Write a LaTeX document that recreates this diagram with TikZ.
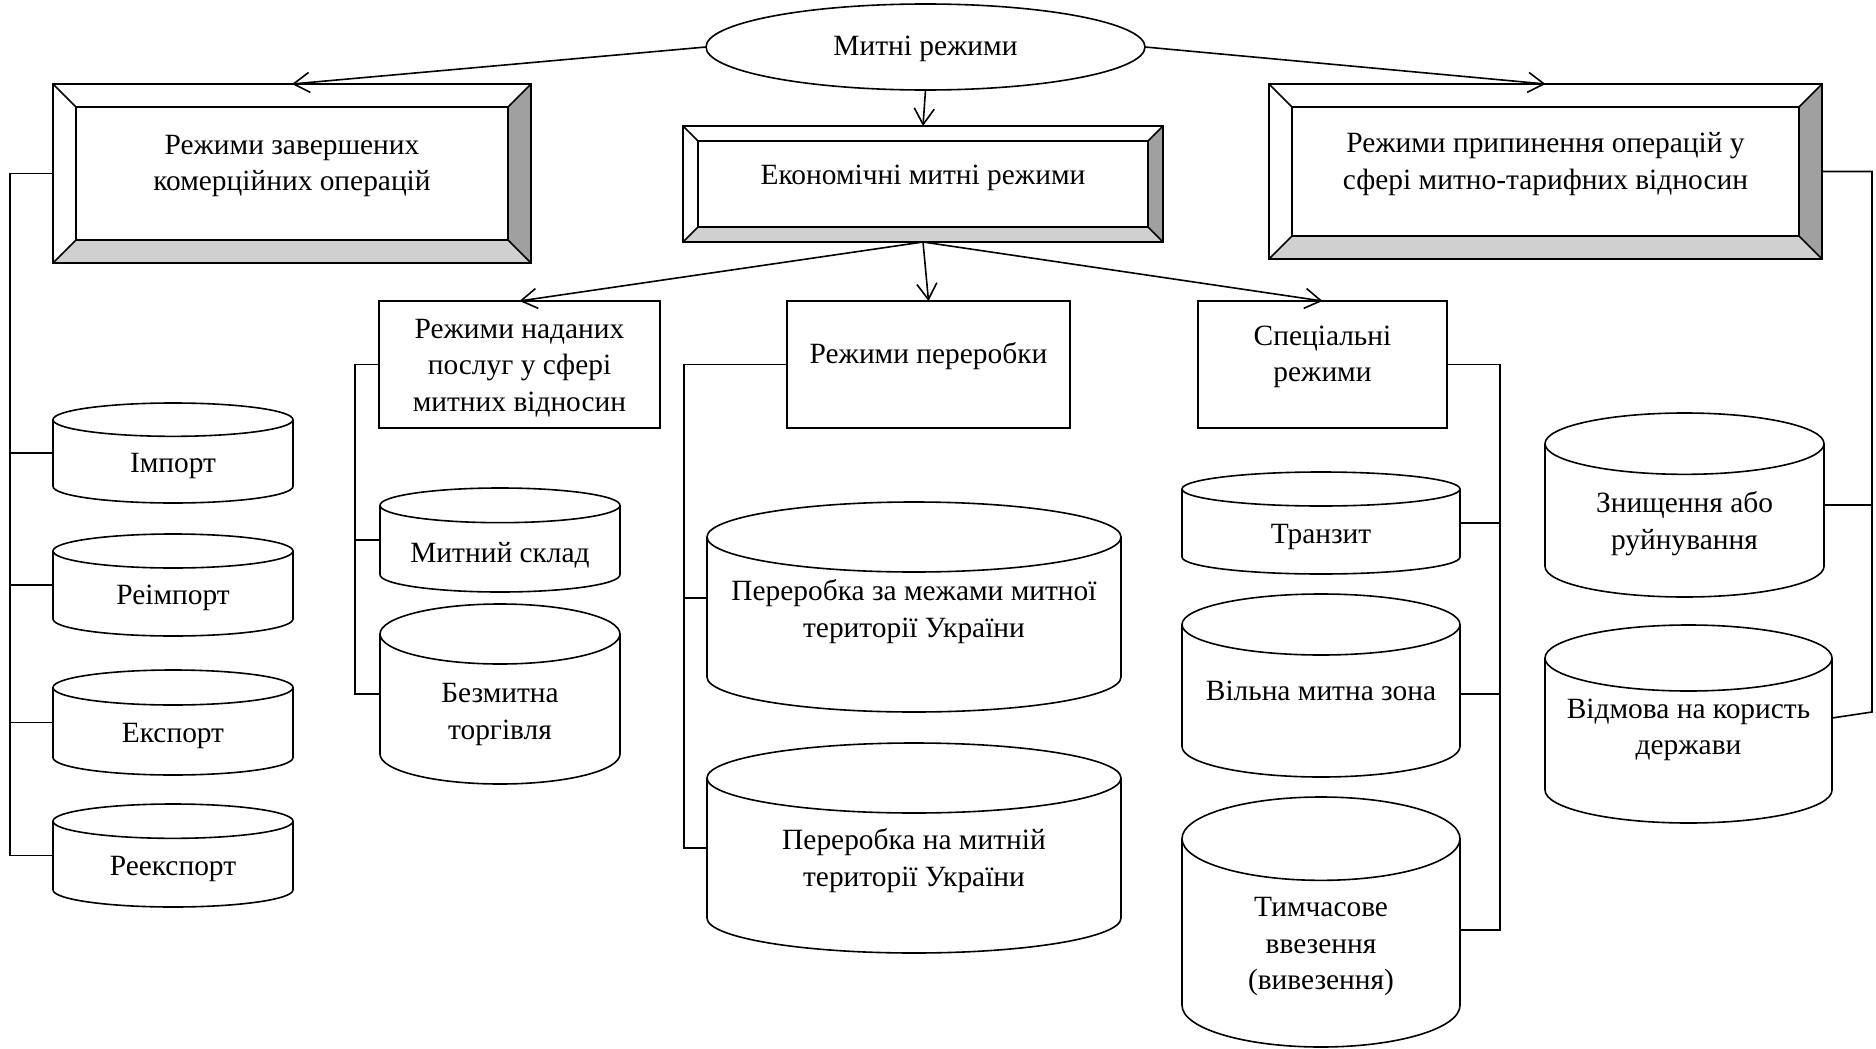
\documentclass[tikz,border=0pt]{standalone}
\usepackage{fontspec}
\setmainfont{Liberation Serif}
\usetikzlibrary{arrows.meta,calc,shapes.geometric}

\definecolor{bevdark}{HTML}{A0A0A0}
\definecolor{bevlight}{HTML}{D0D0D0}

\tikzset{
  txt/.style={align=center, inner sep=0pt, font=\fontsize{29.4}{36.5}\selectfont},
  lbl/.style={txt, yshift=-2.5pt},
  box/.style={draw, line width=1.6pt, inner sep=0pt, outer sep=0pt},
  oval/.style={box, ellipse},
  canbox/.style={inner sep=0pt, outer sep=0pt},
  bevel/.style={box, path picture={
    \fill[bevdark] (path picture bounding box.north east) -- (path picture bounding box.south east)
      -- ++(-#1,#1) -- ([shift={(-#1,-#1)}]path picture bounding box.north east) -- cycle;
    \fill[bevlight] (path picture bounding box.south west) -- (path picture bounding box.south east)
      -- ++(-#1,#1) -- ([shift={(#1,#1)}]path picture bounding box.south west) -- cycle;
    \draw[line width=1.6pt] ([shift={(#1,-#1)}]path picture bounding box.north west)
      rectangle ([shift={(-#1,#1)}]path picture bounding box.south east);
    \draw[line width=1.6pt] (path picture bounding box.north west) -- ++(#1,-#1)
      (path picture bounding box.north east) -- ++(-#1,-#1)
      (path picture bounding box.south west) -- ++(#1,#1)
      (path picture bounding box.south east) -- ++(-#1,#1);
  }},
  bevel/.default=23pt,
  arr/.style={line width=1.6pt, -{Straight Barb[length=16pt,width=20pt]}},
  link/.style={line width=1.6pt}
}

% cylinder outline over an invisible node
\newcommand{\canshape}[1]{%
  \draw[line width=1.6pt] let \p1=(#1.north west), \p2=(#1.south east),
      \n1={(\x2-\x1)/2}, \n2={(\y1-\y2)/6} in
    ([yshift=-\n2]#1.north) ellipse [x radius=\n1*1pt, y radius=\n2*1pt]
    ([yshift=-\n2]#1.north west) -- ([yshift=\n2]#1.south west)
    arc [start angle=180, end angle=360, x radius=\n1*1pt, y radius=\n2*1pt]
    -- ([yshift=-\n2]#1.north east);
}

\begin{document}
\begin{tikzpicture}[x=1pt, y=-1pt]
\useasboundingbox (0,0) rectangle (1876,1049);

% Top
\node[oval, minimum width=439pt, minimum height=86pt] (top) at (925.5,47) {};
\node[lbl] (top-t) at ([yshift=0.5pt]top.center) {Митні режими};

% First level
\node[bevel, minimum width=478pt, minimum height=179pt] (fin) at (292,173.5) {};
\node[lbl] (fin-t) at ([yshift=10pt]fin.center) {Режими завершених\\комерційних операцій};
\node[bevel=15pt, minimum width=480pt, minimum height=116pt] (econ) at (923,184) {};
\node[lbl] (econ-t) at ([yshift=9pt]econ.center) {Економічні митні режими};
\node[bevel, minimum width=553pt, minimum height=175pt] (term) at (1545.5,171.5) {};
\node[lbl] (term-t) at ([yshift=10pt]term.center) {Режими припинення операцій у\\сфері митно-тарифних відносин};

% Second level
\node[box, minimum width=281pt, minimum height=127pt] (serv) at (519.5,364.5) {};
\node[lbl] (serv-t) at ([yshift=-1pt]serv.center) {Режими наданих\\послуг у сфері\\митних відносин};
\node[box, minimum width=283pt, minimum height=127pt] (proc) at (928.5,364.5) {};
\node[lbl] (proc-t) at ([yshift=10.5pt]proc.center) {Режими переробки};
\node[box, minimum width=249pt, minimum height=127pt] (spec) at (1322.5,364.5) {};
\node[lbl] (spec-t) at ([yshift=10pt]spec.center) {Спеціальні\\режими};

% Cylinders, left
\node[canbox, minimum width=240pt, minimum height=100pt] (imp) at (173,453) {};
\node[lbl] (imp-t) at ([yshift=-10pt]imp.center) {Імпорт};
\canshape{imp}
\node[canbox, minimum width=240pt, minimum height=102pt] (reimp) at (173,585) {};
\node[lbl] (reimp-t) at ([yshift=-10pt]reimp.center) {Реімпорт};
\canshape{reimp}
\node[canbox, minimum width=240pt, minimum height=105pt] (exp) at (173,722.5) {};
\node[lbl] (exp-t) at ([yshift=-11pt]exp.center) {Експорт};
\canshape{exp}
\node[canbox, minimum width=240pt, minimum height=103pt] (reexp) at (173,855.5) {};
\node[lbl] (reexp-t) at ([yshift=-11pt]reexp.center) {Реекспорт};
\canshape{reexp}

% Cylinders, services
\node[canbox, minimum width=240pt, minimum height=104pt] (stor) at (500,540) {};
\node[lbl] (stor-t) at ([yshift=-13pt]stor.center) {Митний склад};
\canshape{stor}
\node[canbox, minimum width=240pt, minimum height=180pt] (dfree) at (500,694) {};
\node[lbl] (dfree-t) at ([yshift=-18pt]dfree.center) {Безмитна\\торгівля};
\canshape{dfree}

% Cylinders, processing
\node[canbox, minimum width=414pt, minimum height=210pt] (pout) at (914,607) {};
\node[lbl] (pout-t) at ([yshift=-2pt]pout.center) {Переробка за межами митної\\території України};
\canshape{pout}
\node[canbox, minimum width=414pt, minimum height=210pt] (pin) at (914,848) {};
\node[lbl] (pin-t) at ([yshift=-10pt]pin.center) {Переробка на митній\\території України};
\canshape{pin}

% Cylinders, special
\node[canbox, minimum width=278pt, minimum height=102pt] (trans) at (1321,523) {};
\node[lbl] (trans-t) at ([yshift=-11pt]trans.center) {Транзит};
\canshape{trans}
\node[canbox, minimum width=278pt, minimum height=183pt] (fzone) at (1321,685.5) {};
\node[lbl] (fzone-t) at ([yshift=-3pt]fzone.center) {Вільна митна зона};
\canshape{fzone}
\node[canbox, minimum width=278pt, minimum height=250pt] (temp) at (1321,922) {};
\node[lbl] (temp-t) at ([yshift=-22pt]temp.center) {Тимчасове\\ввезення\\(вивезення)};
\canshape{temp}

% Cylinders, termination
\node[canbox, minimum width=279pt, minimum height=184pt] (destr) at (1684.5,505) {};
\node[lbl] (destr-t) at ([yshift=-16pt]destr.center) {Знищення або\\руйнування};
\canshape{destr}
\node[canbox, minimum width=287pt, minimum height=198pt] (waive) at (1688.5,724) {};
\node[lbl] (waive-t) at ([yshift=-3.5pt]waive.center) {Відмова на користь\\держави};
\canshape{waive}

% Arrows
\draw[arr] (top.west) -- (fin.north);
\draw[arr] (top.east) -- (term.north);
\draw[arr] (top.south) -- (econ.north);
\draw[arr] (econ.south) -- (serv.north);
\draw[arr] (econ.south) -- (proc.north);
\draw[arr] (econ.south) -- (spec.north);

% Branch lines
\coordinate (busA) at (10,0);
\coordinate (busB) at (355,0);
\coordinate (busC) at (684,0);
\coordinate (busD) at (1500,0);
\coordinate (busE) at (1872,0);

\draw[link] (fin.west) -- (fin.west -| busA) |- (reexp.west);
\draw[link] (imp.west) -- (imp.west -| busA);
\draw[link] (reimp.west) -- (reimp.west -| busA);
\draw[link] (exp.west) -- (exp.west -| busA);

\draw[link] (serv.west) -- (serv.west -| busB) |- (dfree.west);
\draw[link] (stor.west) -- (stor.west -| busB);

\draw[link] (proc.west) -- (proc.west -| busC) |- (pin.west);
\draw[link] ([yshift=9pt]pout.west) -- ([yshift=9pt]pout.west -| busC);

\draw[link] (spec.east) -- (spec.east -| busD) |- ([yshift=-8pt]temp.east);
\draw[link] (trans.east) -- (trans.east -| busD);
\draw[link] ([yshift=-8.5pt]fzone.east) -- ([yshift=-8.5pt]fzone.east -| busD);

\draw[link] (term.east) -- (term.east -| busE) -- ([yshift=12pt]waive.east -| busE)
  -- ([yshift=6pt]waive.east);
\draw[link] (destr.east) -- (destr.east -| busE);

\end{tikzpicture}
\end{document}
